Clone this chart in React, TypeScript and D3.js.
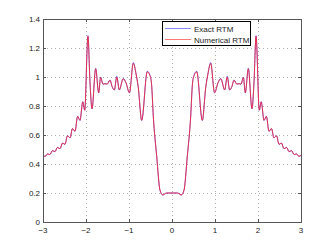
import React from "react";
import * as d3 from "d3";

const xValues = [
  -3.0, -2.95, -2.895, -2.84, -2.78, -2.72, -2.665, -2.605, -2.545, -2.49,
  -2.43, -2.37, -2.315, -2.255, -2.195, -2.14, -2.075, -2.03, -1.955, -1.905,
  -1.86, -1.775, -1.705, -1.66, -1.605, -1.56, -1.51, -1.44, -1.395, -1.34,
  -1.285, -1.225, -1.135, -1.07, -0.99, -0.9, -0.835, -0.785, -0.705, -0.575,
  -0.51, -0.475, -0.435, -0.355, -0.28, -0.215, -0.125, -0.05, 0,
  0.05, 0.125, 0.215, 0.28, 0.355, 0.435, 0.475, 0.51, 0.575, 0.705,
  0.785, 0.835, 0.9, 0.99, 1.07, 1.135, 1.225, 1.285, 1.34, 1.395,
  1.44, 1.51, 1.56, 1.605, 1.66, 1.705, 1.775, 1.86, 1.905, 1.955,
  2.03, 2.075, 2.14, 2.195, 2.255, 2.315, 2.37, 2.43, 2.49, 2.545,
  2.605, 2.665, 2.72, 2.78, 2.84, 2.895, 2.95, 3.0,
];

const exactRTM = [
  0.46, 0.452, 0.47, 0.465, 0.492, 0.485, 0.515, 0.505, 0.545, 0.535,
  0.595, 0.58, 0.645, 0.625, 0.73, 0.7, 0.83, 0.77, 1.285, 0.95,
  0.78, 1.06, 0.89, 1.0, 0.95, 0.955, 0.95, 0.98, 0.935, 0.91,
  1.005, 0.91, 0.99, 0.96, 0.89, 1.1, 1.02, 0.93, 0.7, 1.04,
  1.01, 0.95, 0.73, 0.45, 0.22, 0.186, 0.2, 0.2, 0.2,
  0.2, 0.2, 0.186, 0.22, 0.45, 0.73, 0.95, 1.01, 1.04, 0.7,
  0.93, 1.02, 1.1, 0.89, 0.96, 0.99, 0.91, 1.005, 0.91, 0.935,
  0.98, 0.95, 0.955, 0.95, 1.0, 0.89, 1.06, 0.78, 0.95, 1.285,
  0.77, 0.83, 0.7, 0.73, 0.625, 0.645, 0.58, 0.595, 0.535, 0.545,
  0.505, 0.515, 0.485, 0.492, 0.465, 0.47, 0.452, 0.46,
];

const numericalRTM = [
  0.46, 0.453, 0.469, 0.465, 0.491, 0.486, 0.514, 0.506, 0.544, 0.536,
  0.594, 0.581, 0.644, 0.626, 0.728, 0.702, 0.828, 0.772, 1.28, 0.95,
  0.782, 1.056, 0.892, 0.997, 0.951, 0.953, 0.951, 0.977, 0.936, 0.912,
  1.0, 0.912, 0.987, 0.96, 0.892, 1.094, 1.02, 0.93, 0.702, 1.035,
  1.008, 0.95, 0.73, 0.45, 0.22, 0.187, 0.2, 0.2, 0.2,
  0.2, 0.2, 0.187, 0.22, 0.45, 0.73, 0.95, 1.008, 1.035, 0.702,
  0.93, 1.02, 1.094, 0.892, 0.96, 0.987, 0.912, 1.0, 0.912, 0.936,
  0.977, 0.951, 0.953, 0.951, 0.997, 0.892, 1.056, 0.782, 0.95, 1.28,
  0.772, 0.828, 0.702, 0.728, 0.626, 0.644, 0.581, 0.594, 0.536, 0.544,
  0.506, 0.514, 0.486, 0.491, 0.465, 0.469, 0.453, 0.46,
];

const xTicks = [-3, -2, -1, 0, 1, 2, 3];
const xTickLabels = ["\u22123", "\u22122", "\u22121", "0", "1", "2", "3"];
const yTicks = [0, 0.2, 0.4, 0.6, 0.8, 1, 1.2, 1.4];
const yTickLabels = ["0", "0.2", "0.4", "0.6", "0.8", "1", "1.2", "1.4"];
const seriesNames = ["Exact RTM", "Numerical RTM"];
const seriesColors = ["#3b3bff", "#ff2020"];

export default function App() {
  const left = 43, right = 301, top = 19, bottom = 222;
  const x = d3.scaleLinear().domain([-3, 3]).range([left, right]);
  const y = d3.scaleLinear().domain([0, 1.4]).range([bottom, top]);
  const line = d3
    .line<number>()
    .x((_, i) => x(xValues[i]))
    .y((d) => y(d))
    .curve(d3.curveMonotoneX);
  const font = "'Liberation Sans', Arial, Helvetica, sans-serif";
  const tickLen = 3;
  const axisColor = "#555";

  return (
    <svg
      width={332}
      height={250}
      style={{ position: "absolute", left: 0, top: 0, background: "#fff" }}
      fontFamily={font}
    >
      <rect x={0} y={0} width={332} height={250} fill="#fff" />
      {/* grid */}
      {xTicks.map((t) => (
        <line
          key={"gx" + t}
          x1={Math.round(x(t)) + 0.5}
          x2={Math.round(x(t)) + 0.5}
          y1={top}
          y2={bottom}
          stroke="#b0b0b0"
          strokeWidth={1}
          strokeDasharray="1,3"
        />
      ))}
      {yTicks.map((t) => (
        <line
          key={"gy" + t}
          x1={left}
          x2={right}
          y1={Math.round(y(t)) + 0.5}
          y2={Math.round(y(t)) + 0.5}
          stroke="#b0b0b0"
          strokeWidth={1}
          strokeDasharray="1,3"
        />
      ))}
      {/* series */}
      <path d={line(exactRTM) || ""} fill="none" stroke={seriesColors[0]} strokeWidth={1} strokeOpacity={0.75} />
      <path d={line(numericalRTM) || ""} fill="none" stroke={seriesColors[1]} strokeWidth={1} strokeOpacity={0.8} />
      {/* axes box */}
      <rect
        x={left + 0.5}
        y={top + 0.5}
        width={right - left}
        height={bottom - top}
        fill="none"
        stroke={axisColor}
        strokeWidth={1}
      />
      {/* ticks */}
      {xTicks.map((t) => (
        <g key={"tx" + t}>
          <line x1={Math.round(x(t)) + 0.5} x2={Math.round(x(t)) + 0.5} y1={bottom} y2={bottom - tickLen} stroke={axisColor} />
          <line x1={Math.round(x(t)) + 0.5} x2={Math.round(x(t)) + 0.5} y1={top} y2={top + tickLen} stroke={axisColor} />
        </g>
      ))}
      {yTicks.map((t) => (
        <g key={"ty" + t}>
          <line x1={left} x2={left + tickLen} y1={Math.round(y(t)) + 0.5} y2={Math.round(y(t)) + 0.5} stroke={axisColor} />
          <line x1={right} x2={right - tickLen} y1={Math.round(y(t)) + 0.5} y2={Math.round(y(t)) + 0.5} stroke={axisColor} />
        </g>
      ))}
      {/* tick labels */}
      {xTicks.map((t, i) => (
        <text key={"lx" + t} x={x(t)} y={bottom + 11} fontSize={8} textAnchor="middle" fill="#222">
          {xTickLabels[i]}
        </text>
      ))}
      {yTicks.map((t, i) => (
        <text key={"ly" + t} x={left - 3} y={y(t) + 3} fontSize={8} textAnchor="end" fill="#222">
          {yTickLabels[i]}
        </text>
      ))}
      {/* legend */}
      <rect x={162.5} y={21.5} width={88} height={24} fill="#fff" stroke="#000" strokeWidth={1} />
      {seriesNames.map((name, i) => (
        <g key={name}>
          <line
            x1={165}
            x2={191}
            y1={28.5 + i * 11}
            y2={28.5 + i * 11}
            stroke={seriesColors[i]}
            strokeOpacity={0.6}
            strokeWidth={1}
          />
          <text x={194} y={31.5 + i * 11} fontSize={8} fill="#222">
            {name}
          </text>
        </g>
      ))}
    </svg>
  );
}
